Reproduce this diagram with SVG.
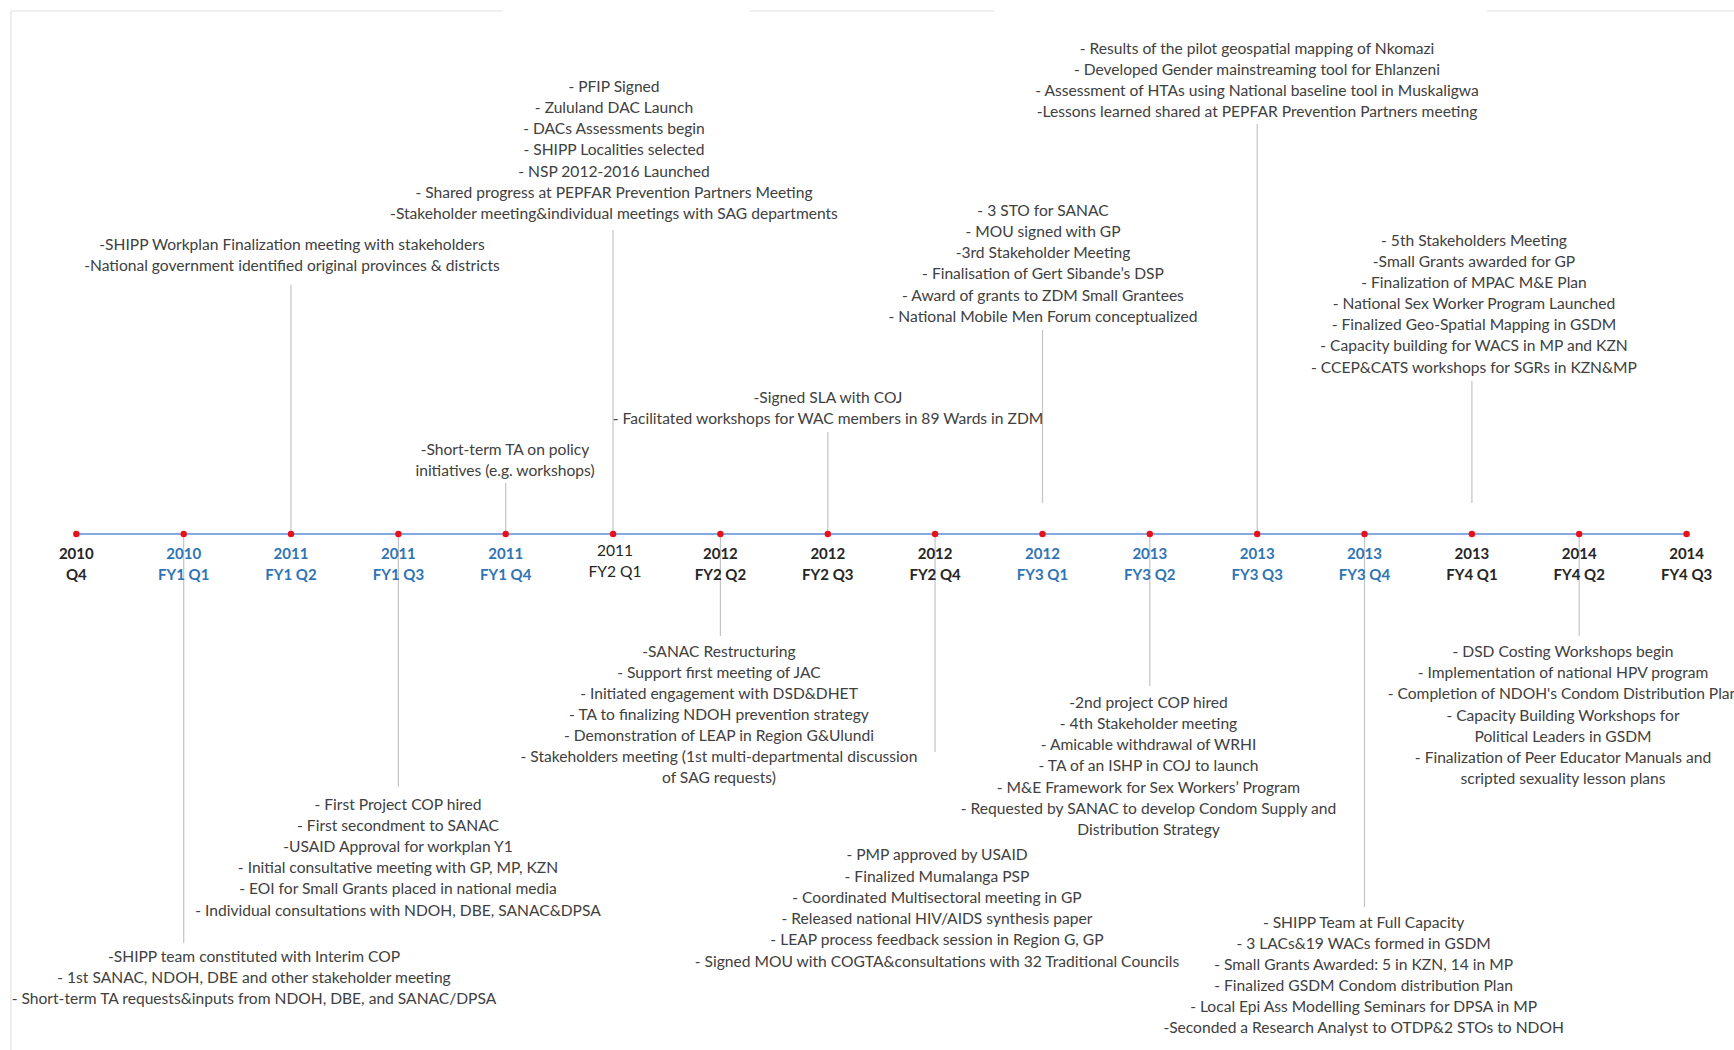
<svg xmlns="http://www.w3.org/2000/svg" width="1734" height="1050" viewBox="0 0 1734 1050">
  <style>
    .note { font-family: Lato, "Liberation Sans", sans-serif; font-size: 15.6px; fill: #404040; text-anchor: middle; }
    .lbl { font-family: Lato, "Liberation Sans", sans-serif; font-size: 15px; font-weight: bold; text-anchor: middle; }
    .lbl.blue { fill: #2f74b5; }
    .lbl.dark { fill: #262626; }
    .lbl.plain { font-weight: normal; font-size: 15.6px; }
    .stem { stroke: #c4c4c4; stroke-width: 1.2; fill: none; }
    .axis { stroke: #5b8ed6; stroke-width: 1.5; }
    .dot { fill: #e8101a; }
    .frame { stroke: #e2e2e2; stroke-width: 1.2; fill: none; }
  </style>

  <rect x="0" y="0" width="1734" height="1050" fill="#ffffff"/>

  <!-- page frame -->
  <g id="frame">
    <line class="frame" x1="11" y1="11" x2="11" y2="1050"/>
    <line class="frame" x1="11" y1="11" x2="503" y2="11"/>
    <line class="frame" x1="749" y1="11" x2="994" y2="11"/>
    <line class="frame" x1="1487" y1="11" x2="1734" y2="11"/>
  </g>

  <!-- stems joining each quarter to its notes -->
  <g id="connectors">
    <line class="stem" x1="291" y1="285" x2="291" y2="534"/>
    <line class="stem" x1="613" y1="230" x2="613" y2="534"/>
    <line class="stem" x1="505.7" y1="483" x2="505.7" y2="534"/>
    <line class="stem" x1="827.8" y1="432" x2="827.8" y2="534"/>
    <line class="stem" x1="1042.5" y1="330" x2="1042.5" y2="503"/>
    <line class="stem" x1="1257.2" y1="124" x2="1257.2" y2="534"/>
    <line class="stem" x1="1471.9" y1="381" x2="1471.9" y2="503"/>
    <line class="stem" x1="183.7" y1="534" x2="183.7" y2="943"/>
    <line class="stem" x1="398.4" y1="534" x2="398.4" y2="787"/>
    <line class="stem" x1="720.4" y1="534" x2="720.4" y2="636"/>
    <line class="stem" x1="935.1" y1="534" x2="935.1" y2="752"/>
    <line class="stem" x1="1149.8" y1="534" x2="1149.8" y2="686"/>
    <line class="stem" x1="1364.5" y1="534" x2="1364.5" y2="907"/>
    <line class="stem" x1="1579.2" y1="534" x2="1579.2" y2="636"/>
  </g>

  <!-- time axis -->
  <g id="axis">
    <line class="axis" x1="76.3" y1="534" x2="1686.6" y2="534"/>
    <circle class="dot" cx="76.3" cy="534" r="3.2"/>
    <circle class="dot" cx="183.7" cy="534" r="3.2"/>
    <circle class="dot" cx="291.0" cy="534" r="3.2"/>
    <circle class="dot" cx="398.4" cy="534" r="3.2"/>
    <circle class="dot" cx="505.7" cy="534" r="3.2"/>
    <circle class="dot" cx="613.1" cy="534" r="3.2"/>
    <circle class="dot" cx="720.4" cy="534" r="3.2"/>
    <circle class="dot" cx="827.8" cy="534" r="3.2"/>
    <circle class="dot" cx="935.1" cy="534" r="3.2"/>
    <circle class="dot" cx="1042.5" cy="534" r="3.2"/>
    <circle class="dot" cx="1149.8" cy="534" r="3.2"/>
    <circle class="dot" cx="1257.2" cy="534" r="3.2"/>
    <circle class="dot" cx="1364.5" cy="534" r="3.2"/>
    <circle class="dot" cx="1471.9" cy="534" r="3.2"/>
    <circle class="dot" cx="1579.2" cy="534" r="3.2"/>
    <circle class="dot" cx="1686.6" cy="534" r="3.2"/>
  </g>

  <!-- quarter labels -->
  <g id="q-2010-q4"><text class="lbl dark" x="76.3" y="559">2010</text><text class="lbl dark" x="76.3" y="580">Q4</text></g>
  <g id="q-fy1-q1"><text class="lbl blue" x="183.7" y="559">2010</text><text class="lbl blue" x="183.7" y="580">FY1 Q1</text></g>
  <g id="q-fy1-q2"><text class="lbl blue" x="291.0" y="559">2011</text><text class="lbl blue" x="291.0" y="580">FY1 Q2</text></g>
  <g id="q-fy1-q3"><text class="lbl blue" x="398.4" y="559">2011</text><text class="lbl blue" x="398.4" y="580">FY1 Q3</text></g>
  <g id="q-fy1-q4"><text class="lbl blue" x="505.7" y="559">2011</text><text class="lbl blue" x="505.7" y="580">FY1 Q4</text></g>
  <g id="q-fy2-q1"><text class="lbl dark plain" x="615" y="556">2011</text><text class="lbl dark plain" x="615" y="577">FY2 Q1</text></g>
  <g id="q-fy2-q2"><text class="lbl dark" x="720.4" y="559">2012</text><text class="lbl dark" x="720.4" y="580">FY2 Q2</text></g>
  <g id="q-fy2-q3"><text class="lbl dark" x="827.8" y="559">2012</text><text class="lbl dark" x="827.8" y="580">FY2 Q3</text></g>
  <g id="q-fy2-q4"><text class="lbl dark" x="935.1" y="559">2012</text><text class="lbl dark" x="935.1" y="580">FY2 Q4</text></g>
  <g id="q-fy3-q1"><text class="lbl blue" x="1042.5" y="559">2012</text><text class="lbl blue" x="1042.5" y="580">FY3 Q1</text></g>
  <g id="q-fy3-q2"><text class="lbl blue" x="1149.8" y="559">2013</text><text class="lbl blue" x="1149.8" y="580">FY3 Q2</text></g>
  <g id="q-fy3-q3"><text class="lbl blue" x="1257.2" y="559">2013</text><text class="lbl blue" x="1257.2" y="580">FY3 Q3</text></g>
  <g id="q-fy3-q4"><text class="lbl blue" x="1364.5" y="559">2013</text><text class="lbl blue" x="1364.5" y="580">FY3 Q4</text></g>
  <g id="q-fy4-q1"><text class="lbl dark" x="1471.9" y="559">2013</text><text class="lbl dark" x="1471.9" y="580">FY4 Q1</text></g>
  <g id="q-fy4-q2"><text class="lbl dark" x="1579.2" y="559">2014</text><text class="lbl dark" x="1579.2" y="580">FY4 Q2</text></g>
  <g id="q-fy4-q3"><text class="lbl dark" x="1686.6" y="559">2014</text><text class="lbl dark" x="1686.6" y="580">FY4 Q3</text></g>

  <!-- notes above the axis -->
  <g id="notes-fy1-q2">
    <text class="note" x="292" y="250">-SHIPP Workplan Finalization meeting with stakeholders</text>
    <text class="note" x="292" y="271">-National government identified original provinces &amp; districts</text>
  </g>
  <g id="notes-fy2-q1">
    <text class="note" x="614" y="91.8">- PFIP Signed</text>
    <text class="note" x="614" y="113">- Zululand DAC Launch</text>
    <text class="note" x="614" y="134.2">- DACs Assessments begin</text>
    <text class="note" x="614" y="155.3">- SHIPP Localities selected</text>
    <text class="note" x="614" y="176.5">- NSP 2012-2016 Launched</text>
    <text class="note" x="614" y="197.7">- Shared progress at PEPFAR Prevention Partners Meeting</text>
    <text class="note" x="614" y="218.9">-Stakeholder meeting&amp;individual meetings with SAG departments</text>
  </g>
  <g id="notes-fy1-q4">
    <text class="note" x="505" y="454.5">-Short-term TA on policy</text>
    <text class="note" x="505" y="475.5">initiatives (e.g. workshops)</text>
  </g>
  <g id="notes-fy2-q3">
    <text class="note" x="828" y="402.5">-Signed SLA with COJ</text>
    <text class="note" x="828" y="423.5">- Facilitated workshops for WAC members in 89 Wards in ZDM</text>
  </g>
  <g id="notes-fy3-q1">
    <text class="note" x="1043" y="215.6">- 3 STO for SANAC</text>
    <text class="note" x="1043" y="236.8">- MOU signed with GP</text>
    <text class="note" x="1043" y="258.1">-3rd Stakeholder Meeting</text>
    <text class="note" x="1043" y="279.3">-  Finalisation of Gert Sibande’s DSP</text>
    <text class="note" x="1043" y="300.6">- Award of grants to ZDM Small Grantees</text>
    <text class="note" x="1043" y="321.8">- National Mobile Men Forum conceptualized</text>
  </g>
  <g id="notes-fy3-q3">
    <text class="note" x="1257" y="54.2">- Results of the pilot geospatial mapping of Nkomazi</text>
    <text class="note" x="1257" y="75.2">- Developed Gender mainstreaming tool for Ehlanzeni</text>
    <text class="note" x="1257" y="96.2">- Assessment of HTAs using National baseline tool in Muskaligwa</text>
    <text class="note" x="1257" y="117.2">-Lessons learned shared at PEPFAR Prevention Partners meeting</text>
  </g>
  <g id="notes-fy4-q1">
    <text class="note" x="1474" y="245.5">- 5th Stakeholders Meeting</text>
    <text class="note" x="1474" y="266.7">-Small Grants awarded for GP</text>
    <text class="note" x="1474" y="287.9">- Finalization of MPAC M&amp;E Plan</text>
    <text class="note" x="1474" y="309">- National Sex Worker Program Launched</text>
    <text class="note" x="1474" y="330.2">- Finalized Geo-Spatial Mapping in GSDM</text>
    <text class="note" x="1474" y="351.4">- Capacity building for WACS in MP and KZN</text>
    <text class="note" x="1474" y="372.6">- CCEP&amp;CATS workshops for SGRs in KZN&amp;MP</text>
  </g>

  <!-- notes below the axis -->
  <g id="notes-fy1-q1">
    <text class="note" x="254" y="962">-SHIPP team constituted with Interim COP</text>
    <text class="note" x="254" y="983">- 1st SANAC, NDOH, DBE and other stakeholder meeting</text>
    <text class="note" x="254" y="1004">- Short-term TA requests&amp;inputs from NDOH, DBE, and SANAC/DPSA</text>
  </g>
  <g id="notes-fy1-q3">
    <text class="note" x="398" y="809.5">- First Project COP hired</text>
    <text class="note" x="398" y="830.7">- First secondment to SANAC</text>
    <text class="note" x="398" y="851.9">-USAID Approval for workplan Y1</text>
    <text class="note" x="398" y="873.2">- Initial consultative meeting with GP, MP, KZN</text>
    <text class="note" x="398" y="894.4">- EOI for Small Grants placed in national media</text>
    <text class="note" x="398" y="915.6">- Individual consultations with NDOH, DBE, SANAC&amp;DPSA</text>
  </g>
  <g id="notes-fy2-q2">
    <text class="note" x="719" y="657">-SANAC Restructuring</text>
    <text class="note" x="719" y="678">- Support first meeting of JAC</text>
    <text class="note" x="719" y="699">- Initiated engagement with DSD&amp;DHET</text>
    <text class="note" x="719" y="720">- TA to finalizing NDOH prevention strategy</text>
    <text class="note" x="719" y="741">- Demonstration of LEAP in Region G&amp;Ulundi</text>
    <text class="note" x="719" y="762">- Stakeholders meeting (1st multi-departmental discussion</text>
    <text class="note" x="719" y="783">of SAG requests)</text>
  </g>
  <g id="notes-fy2-q4">
    <text class="note" x="937" y="860.4">- PMP approved by USAID</text>
    <text class="note" x="937" y="881.6">- Finalized Mumalanga PSP</text>
    <text class="note" x="937" y="902.8">- Coordinated Multisectoral meeting in GP</text>
    <text class="note" x="937" y="924.1">- Released national HIV/AIDS synthesis paper</text>
    <text class="note" x="937" y="945.3">- LEAP process feedback session in Region G, GP</text>
    <text class="note" x="937" y="966.5">- Signed MOU with COGTA&amp;consultations with 32 Traditional Councils</text>
  </g>
  <g id="notes-fy3-q2">
    <text class="note" x="1148.5" y="707.7">-2nd project COP hired</text>
    <text class="note" x="1148.5" y="728.9">- 4th Stakeholder meeting</text>
    <text class="note" x="1148.5" y="750.1">- Amicable withdrawal of WRHI</text>
    <text class="note" x="1148.5" y="771.3">- TA of an ISHP in COJ to launch</text>
    <text class="note" x="1148.5" y="792.5">- M&amp;E Framework for Sex Workers’ Program</text>
    <text class="note" x="1148.5" y="813.7">- Requested by SANAC to develop Condom Supply and</text>
    <text class="note" x="1148.5" y="834.9">Distribution Strategy</text>
  </g>
  <g id="notes-fy3-q4">
    <text class="note" x="1363.6" y="927.8">- SHIPP Team at Full Capacity</text>
    <text class="note" x="1363.6" y="948.8">- 3 LACs&amp;19 WACs  formed in GSDM</text>
    <text class="note" x="1363.6" y="969.8">- Small Grants Awarded: 5 in KZN, 14 in MP</text>
    <text class="note" x="1363.6" y="990.9">- Finalized GSDM Condom distribution Plan</text>
    <text class="note" x="1363.6" y="1011.9">- Local Epi Ass Modelling Seminars for DPSA in MP</text>
    <text class="note" x="1363.6" y="1032.9">-Seconded a Research Analyst to OTDP&amp;2 STOs to NDOH</text>
  </g>
  <g id="notes-fy4-q2">
    <text class="note" x="1563" y="657">- DSD Costing Workshops begin</text>
    <text class="note" x="1563" y="678.2">- Implementation of national HPV program</text>
    <text class="note" x="1563" y="699.4">- Completion of NDOH's Condom Distribution Plan</text>
    <text class="note" x="1563" y="720.6">- Capacity Building Workshops for</text>
    <text class="note" x="1563" y="741.8">Political Leaders in GSDM</text>
    <text class="note" x="1563" y="763">- Finalization of Peer Educator Manuals and</text>
    <text class="note" x="1563" y="784.2">scripted sexuality lesson plans</text>
  </g>
</svg>
